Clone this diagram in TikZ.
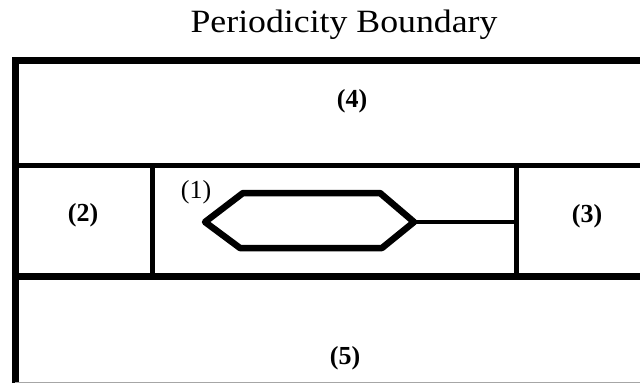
\documentclass[tikz,border=0pt]{standalone}
\usepackage{fontspec}
\setmainfont{Liberation Serif}
\begin{document}
\begin{tikzpicture}[x=1pt,y=-1pt,
  frame/.style={line width=7pt,line join=miter},
  divider/.style={line width=5pt},
  hexline/.style={line width=6.5pt,line join=round},
  link/.style={line width=4pt},
  lbl/.style={font=\fontsize{26}{26}\selectfont\bfseries,inner sep=0pt},
  lblreg/.style={font=\fontsize{26}{26}\selectfont,inner sep=0pt}]
\useasboundingbox (0,0) rectangle (640,383);
\fill[white] (0,0) rectangle (640,383);
% title
\node[anchor=base,inner sep=0pt] (title) at (344,32)
  {\scalebox{1.1}[1]{\fontsize{32.5}{32.5}\selectfont Periodicity Boundary}};
% outer frame
\draw[frame] (15.5,383) -- (15.5,60) -- (640,60);
\draw[gray!70,line width=1pt] (15,382.5) -- (640,382.5);
% middle band
\draw[divider] (12,165.5) -- (640,165.5);
\draw[line width=7pt] (12,276) -- (640,276);
\draw[divider] (152,165.5) -- (152,276);
\draw[divider] (516,165.5) -- (516,276);
% hexagon
\coordinate (hl) at (205,222);
\coordinate (hr) at (414,222);
\draw[hexline] (hl) -- (243,193) -- (380,193) -- (hr) -- (382,248) -- (240,248) -- cycle;
\coordinate (wall) at (516,222);
\draw[link] (hr) -- (wall);
% labels
\node[lbl] (l4) at (352,101) {(4)};
\node[lbl] (l2) at (83,215) {(2)};
\node[lblreg] (l1) at (196,192) {(1)};
\node[lbl] (l3) at (587,216) {(3)};
\node[lbl] (l5) at (345,358) {(5)};
\end{tikzpicture}
\end{document}
